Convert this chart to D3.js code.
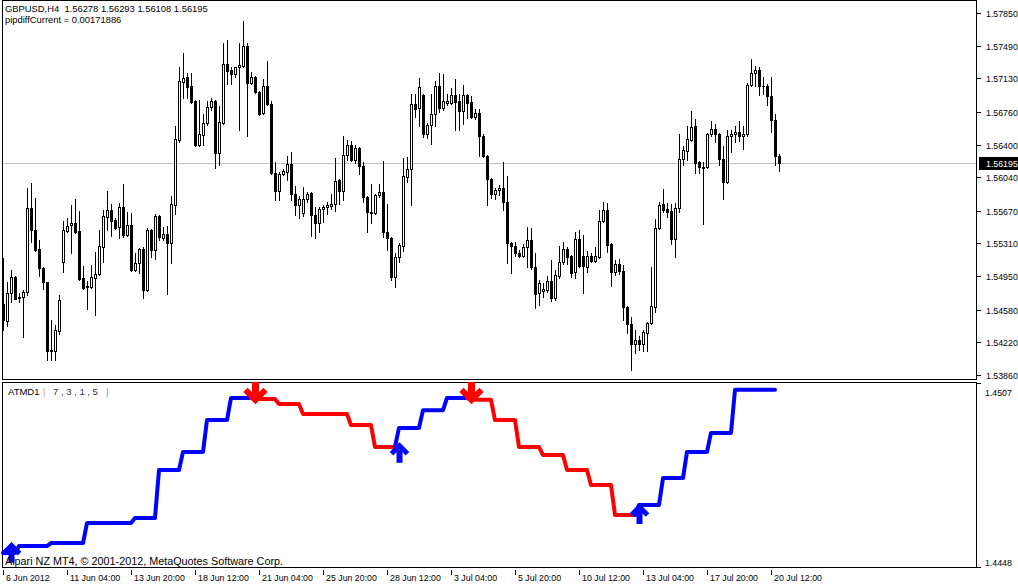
<!DOCTYPE html>
<html><head><meta charset="utf-8">
<script src="https://cdn.jsdelivr.net/npm/d3@7"></script>
<style>
body{margin:0;background:#fff;}
svg{display:block;font-family:"Liberation Sans",Arial,sans-serif;}
</style>
</head><body>
<svg id="chart" width="1018" height="586"></svg>
<script>
// ---------------- DATA ----------------
const symbolLabel = "GBPUSD,H4";
const lastOHLC = ["1.56278", "1.56293", "1.56108", "1.56195"];
const pipdiffLabel = "pipdiffCurrent = 0.00171886";
const indicatorLabel = "ATMD1";
const indicatorParams = "7 , 3 , 1 , 5";
const copyrightLabel = "Alpari NZ MT4, \u00A9 2001-2012, MetaQuotes Software Corp.";

const opens = [1.5464,1.5446,1.5476,1.5494,1.5472,1.5472,1.5478,1.5570,1.5546,1.5525,
1.5504,1.5488,1.5413,1.5413,1.5435,1.5510,1.5545,1.5551,1.5554,1.5545,
1.5493,1.5484,1.5483,1.5493,1.5497,1.5527,1.5560,1.5568,1.5557,1.5549,
1.5571,1.5540,1.5551,1.5502,1.5509,1.5525,1.5480,1.5546,1.5524,1.5561,
1.5537,1.5541,1.5531,1.5573,1.5645,1.5709,1.5714,1.5704,1.5688,1.5639,
1.5650,1.5664,1.5681,1.5688,1.5631,1.5664,1.5729,1.5722,1.5718,1.5725,
1.5727,1.5749,1.5708,1.5715,1.5698,1.5675,1.5704,1.5685,1.5609,1.5589,
1.5607,1.5610,1.5619,1.5586,1.5573,1.5565,1.5580,1.5587,1.5562,1.5553,
1.5569,1.5571,1.5572,1.5574,1.5601,1.5589,1.5628,1.5640,1.5623,1.5636,
1.5616,1.5582,1.5566,1.5565,1.5584,1.5588,1.5544,1.5537,1.5494,1.5516,
1.5528,1.5604,1.5613,1.5685,1.5680,1.5695,1.5652,1.5662,1.5674,1.5704,
1.5680,1.5686,1.5686,1.5695,1.5688,1.5677,1.5695,1.5687,1.5670,1.5675,
1.5649,1.5627,1.5602,1.5585,1.5590,1.5592,1.5577,1.5531,1.5528,1.5521,
1.5517,1.5527,1.5535,1.5505,1.5476,1.5479,1.5480,1.5490,1.5471,1.5495,
1.5510,1.5525,1.5517,1.5499,1.5536,1.5517,1.5505,1.5517,1.5512,1.5516,
1.5556,1.5568,1.5530,1.5499,1.5508,1.5501,1.5461,1.5442,1.5420,1.5425,
1.5420,1.5432,1.5443,1.5461,1.5548,1.5575,1.5569,1.5567,1.5536,1.5570,
1.5624,1.5633,1.5645,1.5660,1.5621,1.5615,1.5615,1.5652,1.5657,1.5652,
1.5624,1.5599,1.5649,1.5652,1.5654,1.5649,1.5652,1.5706,1.5719,1.5722,
1.5705,1.5704,1.5693,1.5667,1.56278];
const highs = [1.5515,1.5489,1.5502,1.5495,1.5476,1.5480,1.5592,1.5598,1.5581,1.5535,
1.5505,1.5489,1.5447,1.5441,1.5474,1.5556,1.5559,1.5573,1.5580,1.5567,
1.5506,1.5490,1.5507,1.5522,1.5546,1.5568,1.5589,1.5575,1.5559,1.5576,
1.5597,1.5566,1.5565,1.5520,1.5526,1.5527,1.5548,1.5547,1.5563,1.5562,
1.5549,1.5550,1.5583,1.5660,1.5726,1.5741,1.5719,1.5719,1.5689,1.5689,
1.5674,1.5688,1.5691,1.5689,1.5682,1.5752,1.5755,1.5726,1.5726,1.5752,
1.5776,1.5752,1.5720,1.5716,1.5699,1.5712,1.5732,1.5688,1.5621,1.5610,
1.5613,1.5627,1.5632,1.5594,1.5583,1.5593,1.5588,1.5588,1.5571,1.5571,
1.5573,1.5577,1.5586,1.5625,1.5602,1.5649,1.5645,1.5644,1.5640,1.5637,
1.5621,1.5583,1.5597,1.5586,1.5597,1.5622,1.5575,1.5538,1.5520,1.5531,
1.5625,1.5626,1.5696,1.5696,1.5713,1.5696,1.5664,1.5696,1.5710,1.5719,
1.5718,1.5696,1.5702,1.5712,1.5696,1.5706,1.5696,1.5693,1.5679,1.5679,
1.5652,1.5628,1.5603,1.5592,1.5595,1.5621,1.5605,1.5533,1.5533,1.5524,
1.5530,1.5549,1.5548,1.5520,1.5491,1.5487,1.5495,1.5513,1.5502,1.5528,
1.5533,1.5527,1.5518,1.5544,1.5546,1.5540,1.5523,1.5521,1.5527,1.5568,
1.5577,1.5576,1.5531,1.5513,1.5514,1.5507,1.5462,1.5450,1.5436,1.5429,
1.5436,1.5444,1.5505,1.5558,1.5577,1.5591,1.5576,1.5575,1.5576,1.5652,
1.5638,1.5660,1.5677,1.5668,1.5622,1.5621,1.5653,1.5666,1.5663,1.5653,
1.5638,1.5656,1.5656,1.5660,1.5666,1.5660,1.5708,1.5734,1.5727,1.5726,
1.5715,1.5707,1.5714,1.5674,1.56293];
const lows = [1.5436,1.5440,1.5467,1.5470,1.5466,1.5428,1.5474,1.5533,1.5523,1.5495,
1.5481,1.5403,1.5403,1.5402,1.5431,1.5499,1.5544,1.5521,1.5542,1.5491,
1.5481,1.5459,1.5482,1.5452,1.5496,1.5511,1.5546,1.5539,1.5547,1.5537,
1.5538,1.5539,1.5501,1.5501,1.5498,1.5471,1.5479,1.5516,1.5514,1.5535,
1.5535,1.5475,1.5509,1.5563,1.5643,1.5691,1.5691,1.5686,1.5638,1.5638,
1.5640,1.5662,1.5678,1.5614,1.5617,1.5663,1.5707,1.5707,1.5714,1.5656,
1.5726,1.5649,1.5707,1.5697,1.5673,1.5674,1.5684,1.5608,1.5579,1.5579,
1.5606,1.5601,1.5579,1.5562,1.5559,1.5561,1.5577,1.5539,1.5537,1.5544,
1.5555,1.5564,1.5569,1.5567,1.5575,1.5579,1.5623,1.5622,1.5620,1.5608,
1.5577,1.5544,1.5553,1.5563,1.5582,1.5538,1.5524,1.5491,1.5483,1.5511,
1.5523,1.5599,1.5573,1.5670,1.5660,1.5648,1.5647,1.5641,1.5661,1.5676,
1.5678,1.5684,1.5685,1.5656,1.5656,1.5663,1.5669,1.5669,1.5668,1.5627,
1.5626,1.5573,1.5581,1.5580,1.5584,1.5568,1.5509,1.5498,1.5517,1.5516,
1.5516,1.5505,1.5503,1.5460,1.5463,1.5472,1.5478,1.5468,1.5469,1.5493,
1.5508,1.5508,1.5494,1.5493,1.5505,1.5476,1.5500,1.5510,1.5511,1.5515,
1.5555,1.5522,1.5484,1.5496,1.5497,1.5447,1.5432,1.5391,1.5410,1.5414,
1.5412,1.5412,1.5442,1.5455,1.5547,1.5566,1.5560,1.5530,1.5516,1.5566,
1.5617,1.5623,1.5644,1.5609,1.5609,1.5552,1.5614,1.5649,1.5643,1.5617,
1.5580,1.5598,1.5632,1.5643,1.5644,1.5635,1.5649,1.5705,1.5704,1.5695,
1.5696,1.5684,1.5654,1.5617,1.56108];
const closes = [1.5447,1.5476,1.5494,1.5470,1.5471,1.5478,1.5570,1.5546,1.5524,1.5504,
1.5488,1.5413,1.5414,1.5436,1.5469,1.5546,1.5550,1.5554,1.5544,1.5492,
1.5482,1.5483,1.5494,1.5497,1.5528,1.5561,1.5568,1.5556,1.5548,1.5571,
1.5540,1.5551,1.5502,1.5509,1.5525,1.5480,1.5546,1.5524,1.5561,1.5538,
1.5541,1.5532,1.5575,1.5646,1.5710,1.5713,1.5703,1.5687,1.5639,1.5652,
1.5664,1.5681,1.5688,1.5631,1.5665,1.5729,1.5721,1.5718,1.5725,1.5728,
1.5749,1.5708,1.5715,1.5698,1.5674,1.5704,1.5685,1.5609,1.5589,1.5608,
1.5611,1.5619,1.5586,1.5573,1.5580,1.5580,1.5586,1.5562,1.5553,1.5569,
1.5571,1.5573,1.5575,1.5600,1.5589,1.5629,1.5640,1.5623,1.5636,1.5616,
1.5582,1.5566,1.5565,1.5584,1.5588,1.5544,1.5537,1.5494,1.5516,1.5529,
1.5605,1.5613,1.5685,1.5679,1.5703,1.5652,1.5662,1.5674,1.5704,1.5680,
1.5688,1.5688,1.5695,1.5687,1.5677,1.5695,1.5686,1.5670,1.5675,1.5649,
1.5627,1.5602,1.5585,1.5590,1.5592,1.5577,1.5531,1.5528,1.5521,1.5517,
1.5527,1.5535,1.5505,1.5475,1.5487,1.5481,1.5490,1.5471,1.5496,1.5511,
1.5525,1.5516,1.5498,1.5536,1.5506,1.5506,1.5517,1.5512,1.5517,1.5556,
1.5568,1.5529,1.5499,1.5508,1.5501,1.5461,1.5442,1.5420,1.5425,1.5420,
1.5433,1.5443,1.5462,1.5548,1.5573,1.5568,1.5566,1.5536,1.5570,1.5624,
1.5634,1.5646,1.5659,1.5620,1.5615,1.5614,1.5652,1.5657,1.5652,1.5624,
1.5599,1.5649,1.5652,1.5654,1.5649,1.5652,1.5706,1.5719,1.5722,1.5704,
1.5704,1.5693,1.5667,1.5627,1.56195];

const priceTicks = [1.5785,1.5749,1.5713,1.5676,1.5640,1.5604,1.5567,1.5531,1.5495,1.5458,1.5422,1.5386];
const currentPrice = 1.56195;

const timeLabels = ["6 Jun 2012","11 Jun 04:00","13 Jun 20:00","18 Jun 12:00","21 Jun 04:00","25 Jun 20:00","28 Jun 12:00","3 Jul 04:00","5 Jul 20:00","10 Jul 12:00","13 Jul 04:00","17 Jul 20:00","20 Jul 12:00"];
const timeLabelBars = [0,16,32,48,64,80,96,112,128,144,160,176,192];

// ATMD1 indicator value for every bar (null = not drawn)
const atmdValues = [1.44525,1.44525,1.44525,1.44525,1.44547,1.44547,1.44547,1.44547,1.44547,1.44547,
1.44547,1.44547,1.44557,1.44557,1.44557,1.44557,1.44557,1.44557,1.44557,1.44557,
1.44557,1.44621,1.44621,1.44621,1.44621,1.44621,1.44621,1.44621,1.44621,1.44621,
1.44621,1.44621,1.44621,1.44637,1.44637,1.44637,1.44637,1.44637,1.44637,1.44791,
1.44791,1.44791,1.44791,1.44791,1.44791,1.44849,1.44849,1.44849,1.44849,1.44849,
1.44849,1.44951,1.44951,1.44951,1.44951,1.44951,1.44951,1.45022,1.45022,1.45022,
1.45022,1.45022,1.45022,1.45019,1.45019,1.45019,1.45019,1.45019,1.45019,1.45003,
1.45003,1.45003,1.45003,1.45003,1.45003,1.44971,1.44971,1.44971,1.44971,1.44971,
1.44971,1.44971,1.44971,1.44971,1.44971,1.44971,1.44971,1.44935,1.44935,1.44935,
1.44935,1.44935,1.44935,1.44865,1.44865,1.44865,1.44865,1.44865,1.44865,1.44926,
1.44926,1.44926,1.44926,1.44926,1.44926,1.44983,1.44983,1.44983,1.44983,1.44983,
1.44983,1.45022,1.45022,1.45022,1.45022,1.45022,1.45022,1.45016,1.45016,1.45016,
1.45016,1.45016,1.45016,1.44951,1.44951,1.44951,1.44951,1.44951,1.44951,1.44865,
1.44865,1.44865,1.44865,1.44865,1.44865,1.44839,1.44839,1.44839,1.44839,1.44839,
1.44839,1.44791,1.44791,1.44791,1.44791,1.44791,1.44791,1.44743,1.44743,1.44743,
1.44743,1.44743,1.44743,1.44647,1.44647,1.44647,1.44647,1.44647,1.44647,1.44679,
1.44679,1.44679,1.44679,1.44679,1.44679,1.44765,1.44765,1.44765,1.44765,1.44765,
1.44765,1.44849,1.44849,1.44849,1.44849,1.44849,1.44849,1.4491,1.4491,1.4491,
1.4491,1.4491,1.4491,1.45048,1.45048,1.45048,1.45048,1.45048,1.45048,1.45048,
1.45048,1.45048,1.45048,1.45048,null];
const trendStartBars = [0, 63, 99, 117, 159];
const trendDirections = ["up", "down", "up", "down", "up"];
const arrowUpBars = [2, 99, 159];
const arrowUpValues = [1.44555, 1.44875, 1.44679];
const arrowDownBars = [63, 117];
const arrowDownValues = [1.45006, 1.45006];
const atmdTicks = [1.4507, 1.4448];

// ---------------- LAYOUT ----------------
const W = 1018, H = 586;
const plotLeft = 2, plotRight = 976;
const mainTop = 0, mainBottom = 379;
const indTop = 382, indBottom = 567;
const axisFont = "8.8px";

const svg = d3.select("#chart");
const n = closes.length;
const bars = d3.range(n).map(i => ({i, o: opens[i], h: highs[i], l: lows[i], c: closes[i]}));

const x = d3.scaleLinear().domain([0, n - 1]).range([3, 3 + 4 * (n - 1)]);
const y = d3.scaleLinear().domain([1.5386, 1.5785]).range([375, 13]);
const yInd = d3.scaleLinear().domain([1.4448, 1.4507]).range([567, 383]);

svg.append("rect").attr("width", W).attr("height", H).attr("fill", "#fff");

// current price line
const cpY = Math.round(y(currentPrice)) + 0.5;
svg.append("line").attr("x1", plotLeft).attr("x2", plotRight).attr("y1", cpY).attr("y2", cpY)
  .attr("stroke", "#c0c0c0").attr("stroke-width", 1);

// candles
const cg = svg.append("g");
bars.forEach(b => {
  const cx = Math.round(x(b.i));
  const yh = Math.round(y(b.h)), yl = Math.round(y(b.l));
  cg.append("rect").attr("x", cx).attr("y", yh).attr("width", 1).attr("height", Math.max(1, yl - yh + 1)).attr("fill", "#000");
  const top = Math.round(y(Math.max(b.o, b.c))), bot = Math.round(y(Math.min(b.o, b.c)));
  if (b.c >= b.o) {
    if (bot - top < 1) {
      cg.append("rect").attr("x", cx - 1).attr("y", top).attr("width", 3).attr("height", 1).attr("fill", "#000");
    } else {
      cg.append("rect").attr("x", cx - 0.5).attr("y", top + 0.5).attr("width", 2).attr("height", bot - top)
        .attr("fill", "#fff").attr("stroke", "#000").attr("stroke-width", 1);
    }
  } else {
    cg.append("rect").attr("x", cx - 1).attr("y", top).attr("width", 3).attr("height", Math.max(1, bot - top + 1)).attr("fill", "#000");
  }
});

// frames
svg.append("rect").attr("x", plotLeft + 0.5).attr("y", mainTop + 0.5).attr("width", plotRight - plotLeft).attr("height", mainBottom - mainTop)
  .attr("fill", "none").attr("stroke", "#000");
svg.append("rect").attr("x", plotLeft + 0.5).attr("y", indTop + 0.5).attr("width", plotRight - plotLeft).attr("height", indBottom - indTop)
  .attr("fill", "none").attr("stroke", "#000");

// price axis
const pa = svg.append("g");
priceTicks.forEach(t => {
  const ty = Math.round(y(t)) + 0.5;
  pa.append("line").attr("x1", plotRight + 1).attr("x2", plotRight + 5).attr("y1", ty).attr("y2", ty).attr("stroke", "#000");
  pa.append("text").attr("x", 986).attr("y", ty).attr("dy", "0.35em").attr("font-size", axisFont).attr("fill", "#000").text(d3.format(".5f")(t));
});
// current price label
svg.append("rect").attr("x", 979).attr("y", cpY - 6.5).attr("width", 39).attr("height", 13).attr("fill", "#000");
svg.append("text").attr("x", 986).attr("y", cpY).attr("dy", "0.35em").attr("font-size", axisFont).attr("fill", "#fff").text(d3.format(".5f")(currentPrice));

// header texts
svg.append("text").attr("x", 5).attr("y", 12).attr("font-size", "9.4px").attr("fill", "#000").attr("xml:space", "preserve")
  .text(symbolLabel + "  " + lastOHLC.join(" "));
svg.append("text").attr("x", 5).attr("y", 23).attr("font-size", "9.4px").attr("fill", "#000").text(pipdiffLabel);

// indicator label
const labelY = 395;
svg.append("text").attr("x", 8).attr("y", labelY).attr("font-size", "9.5px").attr("fill", "#000").text(indicatorLabel);
svg.append("text").attr("x", 43).attr("y", labelY).attr("font-size", "9.5px").attr("fill", "#DAA520").text("|");
svg.append("text").attr("x", 53).attr("y", labelY).attr("font-size", "9.5px").attr("fill", "#333").attr("xml:space", "preserve").text(indicatorParams);
svg.append("text").attr("x", 106).attr("y", labelY).attr("font-size", "9.5px").attr("fill", "#5599dd").text("|");

// indicator axis
const ia = svg.append("g");
atmdTicks.forEach((t, k) => {
  const ty = Math.round(yInd(t)) + 0.5;
  ia.append("line").attr("x1", plotRight + 1).attr("x2", plotRight + 5).attr("y1", ty).attr("y2", ty).attr("stroke", "#000");
  ia.append("text").attr("x", 985).attr("y", k === 0 ? ty + 9.5 : ty - 4.5).attr("dy", "0.35em").attr("font-size", axisFont).attr("fill", "#000").text(d3.format(".4f")(t));
});

// indicator lines
const line = d3.line().x(d => x(d.i)).y(d => yInd(d.v));
const ig = svg.append("g");
trendStartBars.forEach((s, k) => {
  const e = k + 1 < trendStartBars.length ? trendStartBars[k + 1] - 1 : n - 1;
  const pts = [];
  for (let i = Math.max(0, s - 1); i <= e; i++) if (atmdValues[i] != null) pts.push({i, v: atmdValues[i]});
  ig.append("path").attr("d", line(pts)).attr("fill", "none")
    .attr("stroke", trendDirections[k] === "up" ? "#0000ff" : "#ff0000")
    .attr("stroke-width", 4).attr("stroke-linejoin", "round").attr("stroke-linecap", "round");
});

// arrows
arrowUpBars.forEach((b, k) => {
  const ax = x(b) + 0.5, ay = yInd(arrowUpValues[k]);
  ig.append("path").attr("d", `M${ax - 3},${ay + 6} L${ax - 3},${ay + 19} L${ax + 3},${ay + 19} L${ax + 3},${ay + 6} Z`).attr("fill", "#0000ff");
  ig.append("path").attr("d", `M${ax - 8},${ay + 10} L${ax},${ay + 2} L${ax + 8},${ay + 10}`).attr("fill", "none").attr("stroke", "#0000ff").attr("stroke-width", 5);
});
arrowDownBars.forEach((b, k) => {
  const ax = x(b) + 0.5, ay = yInd(arrowDownValues[k]);
  ig.append("path").attr("d", `M${ax - 3.5},${ay - 21} L${ax - 3.5},${ay - 6} L${ax + 3.5},${ay - 6} L${ax + 3.5},${ay - 21} Z`).attr("fill", "#ff0000");
  ig.append("path").attr("d", `M${ax - 10},${ay - 13} L${ax},${ay - 3} L${ax + 10},${ay - 13}`).attr("fill", "none").attr("stroke", "#ff0000").attr("stroke-width", 6);
});

// copyright
svg.append("text").attr("x", 5).attr("y", 565).attr("font-size", "10.8px").attr("fill", "#000").text(copyrightLabel);

// time axis
const ta = svg.append("g");
timeLabelBars.forEach((b, k) => {
  const tx = Math.round(x(b)) + 0.5;
  ta.append("line").attr("x1", tx).attr("x2", tx).attr("y1", indBottom + 3).attr("y2", indBottom + 8).attr("stroke", "#000");
  ta.append("text").attr("x", tx + 2.5).attr("y", 581).attr("font-size", axisFont).attr("fill", "#000").text(timeLabels[k]);
});
</script>
</body></html>
